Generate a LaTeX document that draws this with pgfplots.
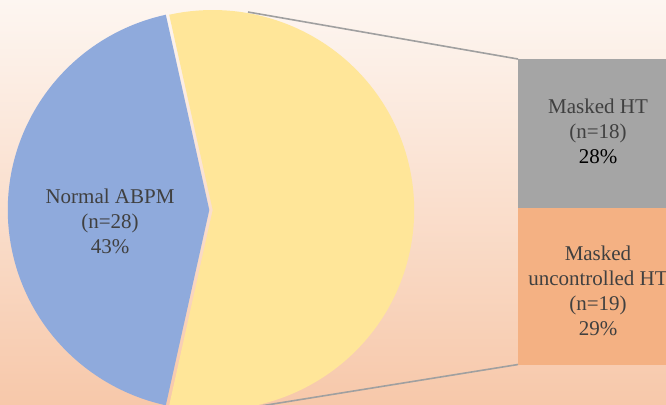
\documentclass[border=0pt]{standalone}
\usepackage{pgfplots}
\pgfplotsset{compat=1.18}
\usepackage{pgfplotstable}
\usepackage{fontspec}
\setmainfont{Liberation Serif}
\definecolor{bgtop}{RGB}{253,246,241}
\definecolor{bgmid}{RGB}{250,224,206}
\definecolor{bgbot}{RGB}{247,200,170}
\definecolor{pieblue}{RGB}{143,170,220}
\definecolor{pieyellow}{RGB}{255,230,153}
\definecolor{bargray}{RGB}{165,165,165}
\definecolor{barorange}{RGB}{244,177,131}
\definecolor{linegray}{RGB}{160,160,160}
\definecolor{txt}{RGB}{64,64,64}
% pie: Normal ABPM vs Masked (total)
\pgfplotstableread{
group n
Normal 28
Masked 37
}\pietable
% bar: split of the masked group
\pgfplotstableread{
group n
MaskedHT 18
MaskedUncontrolledHT 19
}\bartable
\begin{document}
\begin{tikzpicture}
\pgfplotstablegetelem{0}{n}\of\pietable \let\nNormal\pgfplotsretval
\pgfplotstablegetelem{1}{n}\of\pietable \let\nMasked\pgfplotsretval
\pgfmathsetmacro\ang{\nNormal/(\nNormal+\nMasked)*360}
\pgfmathsetmacro\sA{180-\ang/2}
\pgfmathsetmacro\eA{180+\ang/2}
\pgfmathsetmacro\eB{360+\sA}
\shade[top color=bgtop, middle color=bgmid, bottom color=bgbot]
  (0,0) rectangle (333pt,202pt);
\begin{axis}[
  x=0.5pt, y=0.5pt,
  xmin=0, xmax=666, ymin=0, ymax=404,
  y dir=reverse,
  hide axis,
  anchor=south west, at={(0,0)},
  ybar stacked, bar width=160,
  clip=true,
]
% connector lines
\draw[linegray, line width=0.8pt] (axis cs:248,12) -- (axis cs:518,59);
\draw[linegray, line width=0.8pt] (axis cs:248,408) -- (axis cs:518,364.5);
% pie slices
\fill[pieblue] (axis cs:209.3,210) -- +({100.75pt*cos(\sA)},{100pt*sin(\sA)})
  arc[start angle=\sA, end angle=\eA, x radius=100.75pt, y radius=100pt] -- cycle;
\fill[pieyellow] (axis cs:212.7,210) -- +({100.75pt*cos(\eA)},{100pt*sin(\eA)})
  arc[start angle=\eA, end angle=\eB, x radius=100.75pt, y radius=100pt] -- cycle;
% stacked bar
\addplot[draw=none, fill=none] coordinates {(598,59)};
\addplot[fill=bargray, draw=none] table[x expr=598, y expr=\thisrow{n}*8.257, skip coords between index={1}{2}] {\bartable};
\addplot[fill=barorange, draw=none] table[x expr=598, y expr=\thisrow{n}*8.257, skip coords between index={0}{1}] {\bartable};
\coordinate (LN) at (axis cs:110,221.5);
\coordinate (LH) at (axis cs:598,131.5);
\coordinate (LU) at (axis cs:598,291);
\end{axis}
% labels
\node[font=\fontsize{10.5}{12.5}\selectfont, text=txt, align=center] at (LN)
  {Normal ABPM\\(n=28)\\43\%};
\node[font=\fontsize{10.5}{12.5}\selectfont, text=txt, align=center] at (LH)
  {Masked HT\\(n=18)\\\textcolor{black}{28\%}};
\node[font=\fontsize{10.5}{12.5}\selectfont, text=txt, align=center] at (LU)
  {Masked\\uncontrolled HT\\(n=19)\\29\%};
\pgfresetboundingbox
\path (0,0) rectangle (333pt,202pt);
\end{tikzpicture}
\end{document}
